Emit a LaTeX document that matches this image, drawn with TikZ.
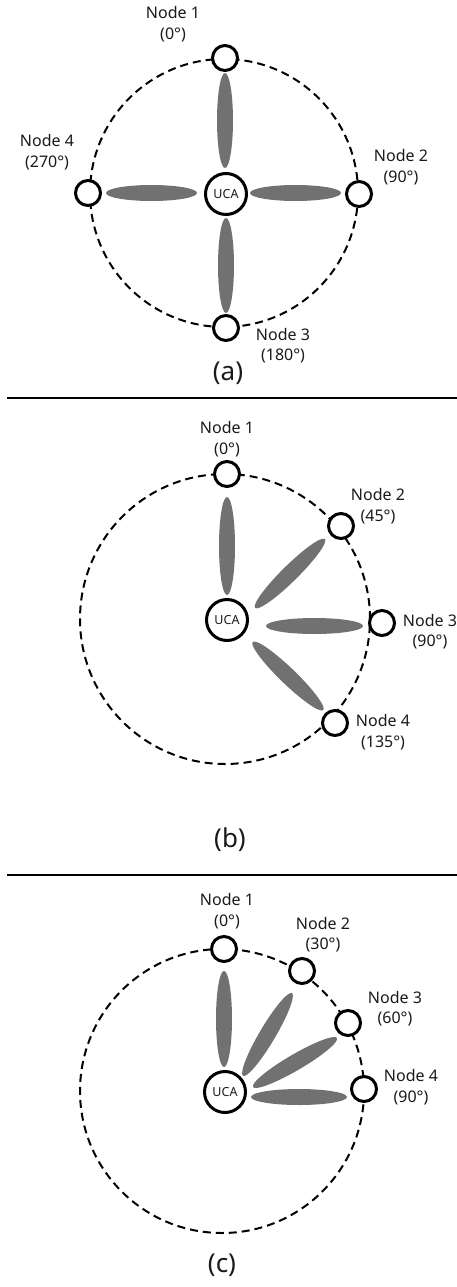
\documentclass[tikz,border=0pt]{standalone}
\usepackage{fontspec}
\setmainfont{Noto Sans}
\definecolor{lobegray}{HTML}{717171}
\definecolor{txt}{HTML}{1A1A1A}
\tikzset{
 ring/.style={circle, draw=black, line width=3pt, fill=white, minimum size=25pt, inner sep=0pt},
 uca/.style={circle, draw=black, line width=3pt, fill=white, minimum size=41pt, inner sep=0pt, text=txt, font=\fontsize{12.5}{12.5}\selectfont},
 orbit/.style={draw=black, line width=2pt, dash pattern=on 8pt off 5pt},
 lobe/.style={fill=lobegray},
 lbl/.style={align=center, inner sep=0pt, text=txt, font=\fontsize{16}{20.5}\selectfont},
 capt/.style={inner sep=0pt, text=txt, font=\fontsize{26}{26}\selectfont},
 sepline/.style={draw=black, line width=2pt}
}
\newcommand\mylobe[4]{\fill[lobe, rotate around={#3:(#1,#2)}] (#1,#2) ellipse (#4 and 8);}
\begin{document}
\begin{tikzpicture}[x=1pt,y=1pt]
\useasboundingbox (0,0) rectangle (457,-1287);
% ---------- (a)
\draw[orbit] (224,-193) circle (134);
\mylobe{225}{-120.5}{90}{47.5}
\mylobe{295.5}{-193}{0}{45.5}
\mylobe{151.5}{-193}{0}{45.5}
\mylobe{226}{-265.5}{90}{47.5}
\node[uca] (a0) at (226,-194) {UCA};
\node[ring] (a1) at (225,-58) {};
\node[ring] (a2) at (359,-194) {};
\node[ring] (a3) at (226,-328) {};
\node[ring] (a4) at (88,-193) {};
\node[lbl] (la1) at (173,-24) {Node 1\\(0°)};
\node[lbl] (la2) at (401,-167) {Node 2\\(90°)};
\node[lbl] (la3) at (283,-345.5) {Node 3\\(180°)};
\node[lbl] (la4) at (47,-152) {Node 4\\(270°)};
\node[capt] (capa) at (228,-373) {(a)};
\draw[sepline] (7,-398) -- (457,-398);
% ---------- (b)
\draw[orbit] (225,-619) circle (145);
\mylobe{227}{-546}{90}{49}
\mylobe{290}{-573.5}{44.6}{49}
\mylobe{314.5}{-626}{0}{48.5}
\mylobe{288}{-676}{-44}{49}
\node[uca] (b0) at (227,-620) {UCA};
\node[ring] (b1) at (227,-474) {};
\node[ring] (b2) at (341,-526) {};
\node[ring] (b3) at (382,-623) {};
\node[ring] (b4) at (335,-723) {};
\node[lbl] (lb1) at (227,-439) {Node 1\\(0°)};
\node[lbl] (lb2) at (378,-506) {Node 2\\(45°)};
\node[lbl] (lb3) at (430,-631.5) {Node 3\\(90°)};
\node[lbl] (lb4) at (383,-732) {Node 4\\(135°)};
\node[capt] (capb) at (230,-840) {(b)};
\draw[sepline] (7,-875) -- (457,-875);
% ---------- (c)
\draw[orbit] (222,-1091) circle (142);
\mylobe{224}{-1019}{90}{48}
\mylobe{267.5}{-1034.5}{59.4}{48}
\mylobe{295}{-1062.5}{30.3}{48.6}
\mylobe{299}{-1097}{0}{48}
\node[uca] (c0) at (225,-1092) {UCA};
\node[ring] (c1) at (224,-949) {};
\node[ring] (c2) at (302,-971) {};
\node[ring] (c3) at (348,-1023) {};
\node[ring] (c4) at (364,-1089) {};
\node[lbl] (lc1) at (227,-911) {Node 1\\(0°)};
\node[lbl] (lc2) at (323,-934.5) {Node 2\\(30°)};
\node[lbl] (lc3) at (395,-1008.5) {Node 3\\(60°)};
\node[lbl] (lc4) at (411,-1087) {Node 4\\(90°)};
\node[capt] (capc) at (222,-1265) {(c)};
\end{tikzpicture}
\end{document}
